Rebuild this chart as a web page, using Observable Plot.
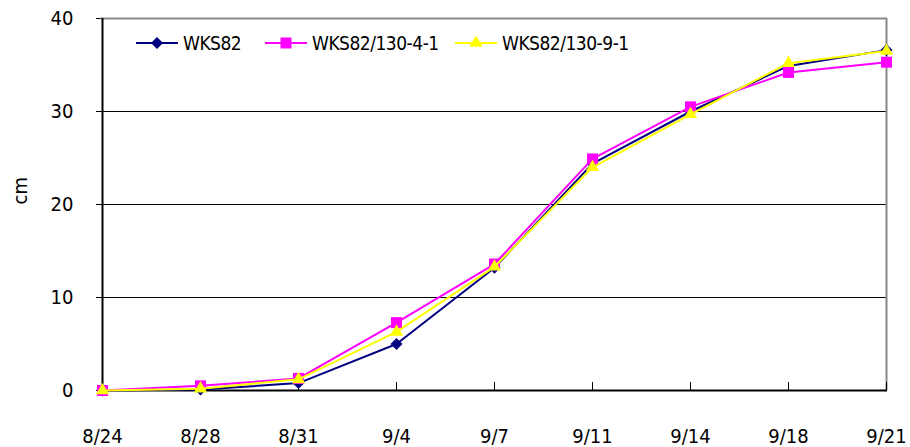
<!DOCTYPE html>
<html>
<head>
<meta charset="utf-8">
<script src="https://cdn.jsdelivr.net/npm/d3@7"></script>
<script src="https://cdn.jsdelivr.net/npm/@observablehq/plot@0.6"></script>
<style>
  html, body { margin: 0; padding: 0; background: #fff; }
  #wrap { position: relative; width: 910px; height: 447px; }
  #legend { position: absolute; left: 0; top: 0; width: 910px; height: 60px; pointer-events: none; }
</style>
</head>
<body>
<div id="wrap"></div>
<script>
const dates = ["8/24", "8/28", "8/31", "9/4", "9/7", "9/11", "9/14", "9/18", "9/21"];
const seriesNames = ["WKS82", "WKS82/130-4-1", "WKS82/130-9-1"];
const wks82 = [0, 0.1, 0.8, 5.0, 13.2, 24.4, 30.0, 34.9, 36.6];
const wks82_4_1 = [0, 0.5, 1.3, 7.3, 13.6, 24.9, 30.5, 34.2, 35.3];
const wks82_9_1 = [0, 0.2, 1.2, 6.3, 13.3, 24.0, 29.7, 35.2, 36.5];
const yTicks = [0, 10, 20, 30, 40];
const colors = ["#000080", "#FF00FF", "#FFFF00"];
const radii = [4.8, 6.2, 4.9];

const diamond = {
  draw(context, size) {
    const r = Math.sqrt(size / 2);
    context.moveTo(0, -r);
    context.lineTo(r, 0);
    context.lineTo(0, r);
    context.lineTo(-r, 0);
    context.closePath();
  }
};
const symbolObjs = [diamond, d3.symbolSquare, d3.symbolTriangle];

const valuesBySeries = [wks82, wks82_4_1, wks82_9_1];
const rows = [];
seriesNames.forEach((s, i) => dates.forEach((d, j) => rows.push({series: s, date: d, value: valuesBySeries[i][j]})));

const font = '"DejaVu Sans Condensed", "DejaVu Sans", sans-serif';

const seriesMarks = seriesNames.flatMap((s, i) => {
  const data = rows.filter(r => r.series === s);
  return [
    Plot.line(data, {x: "date", y: "value", stroke: colors[i], strokeWidth: 2}),
    Plot.dot(data, {x: "date", y: "value", fill: colors[i], stroke: "none", symbol: () => symbolObjs[i], r: radii[i]})
  ];
});

const chart = Plot.plot({
  width: 910,
  height: 447,
  marginTop: 18,
  marginBottom: 57,
  marginLeft: 100,
  marginRight: 23,
  style: {fontFamily: font, fontSize: "20px", color: "#000", background: "#fff", overflow: "visible"},
  x: {type: "point", domain: dates, padding: 0, label: null},
  y: {domain: [0, 40], ticks: yTicks, label: null},
  marks: [
    Plot.ruleY(yTicks.filter(t => t > 0 && t < 40), {stroke: "#000", strokeWidth: 1}),
    Plot.ruleY([40], {stroke: "#888", strokeWidth: 2}),
    Plot.ruleX([dates[dates.length - 1]], {stroke: "#888", strokeWidth: 2}),
    Plot.axisY({ticks: yTicks, tickSize: 4, tickPadding: 23, fontSize: 20, stroke: "#000", strokeOpacity: 1, label: null}),
    Plot.axisX({tickSize: 8, dy: -8, text: null, stroke: "#000", strokeOpacity: 1, label: null}),
    Plot.axisX({tickSize: 0, tickPadding: 38, fontSize: 20, label: null}),
    Plot.ruleX([dates[0]], {stroke: "#000", strokeWidth: 2}),
    Plot.ruleY([0], {stroke: "#000", strokeWidth: 2}),
    Plot.text(["cm"], {frameAnchor: "left", dx: -80, rotate: -90, fontSize: 20, fill: "#000"}),
    ...seriesMarks
  ]
});

const wrap = document.getElementById("wrap");
wrap.appendChild(chart);

// Legend overlay
const legendX = [136, 265, 455];
const ns = "http://www.w3.org/2000/svg";
const leg = document.createElementNS(ns, "svg");
leg.setAttribute("id", "legend");
leg.setAttribute("width", 910);
leg.setAttribute("height", 60);
seriesNames.forEach((s, i) => {
  const x0 = legendX[i], y0 = 43;
  const ln = document.createElementNS(ns, "line");
  ln.setAttribute("x1", x0); ln.setAttribute("x2", x0 + 42);
  ln.setAttribute("y1", y0); ln.setAttribute("y2", y0);
  ln.setAttribute("stroke", colors[i]); ln.setAttribute("stroke-width", 2);
  leg.appendChild(ln);
  const p = document.createElementNS(ns, "path");
  p.setAttribute("d", d3.symbol(symbolObjs[i], Math.PI * radii[i] * radii[i])());
  p.setAttribute("transform", `translate(${x0 + 21},${y0})`);
  p.setAttribute("fill", colors[i]);
  leg.appendChild(p);
  const t = document.createElementNS(ns, "text");
  t.setAttribute("x", x0 + 47); t.setAttribute("y", y0);
  t.setAttribute("dy", "0.35em");
  t.setAttribute("font-size", 19);
  t.setAttribute("letter-spacing", "-0.5");
  t.setAttribute("font-family", font);
  t.setAttribute("fill", "#000");
  t.textContent = s;
  leg.appendChild(t);
});
wrap.appendChild(leg);
</script>
</body>
</html>
